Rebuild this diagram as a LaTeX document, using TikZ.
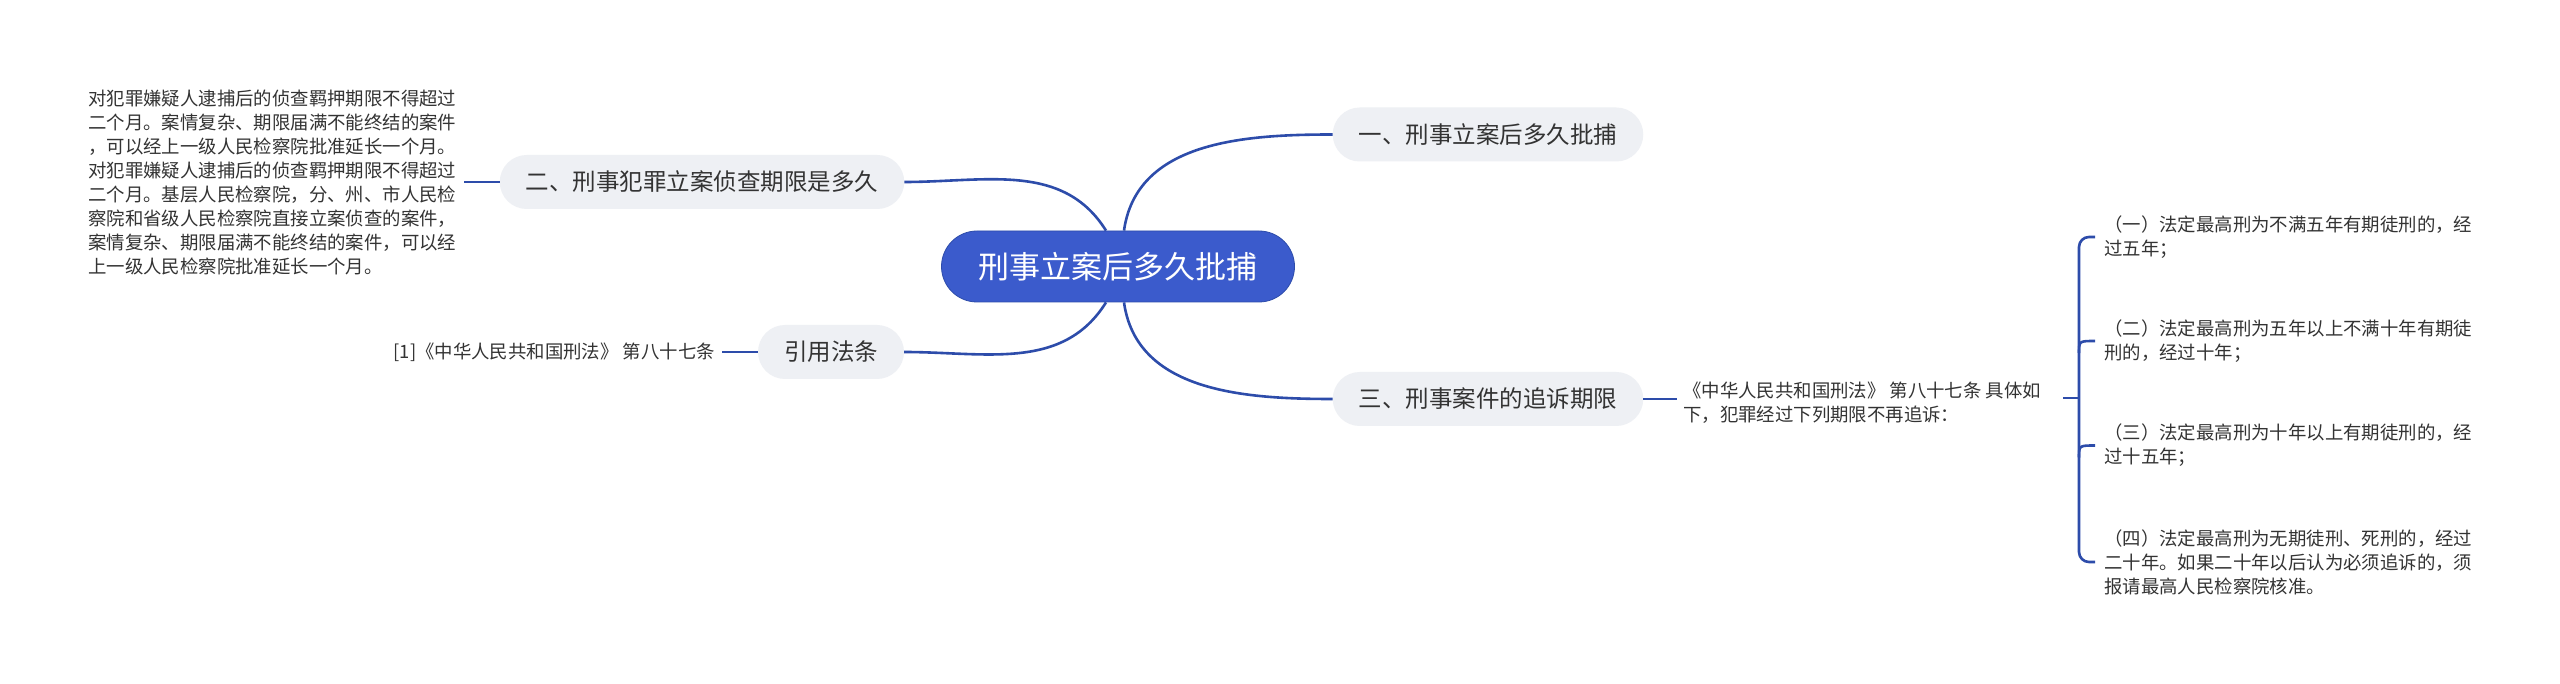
\documentclass[tikz,border=0pt]{standalone}
\usepackage{fontspec}
\setmainfont{Noto Sans CJK SC}
\usetikzlibrary{calc}
\definecolor{lineblue}{RGB}{45,76,170}
\definecolor{mainblue}{RGB}{59,91,204}
\definecolor{subgray}{RGB}{238,240,244}
\definecolor{txt}{RGB}{51,51,51}
\begin{document}
\begin{tikzpicture}[x=1pt,y=-1pt,
  mainbox/.style={fill=mainblue, draw=lineblue, line width=0.8pt, text=white, font=\fontsize{31}{36}\selectfont, inner xsep=37pt, inner ysep=0pt, minimum height=71pt, rounded corners=35.5pt},
  subbox/.style={fill=subgray, text=txt, font=\fontsize{23.5}{28}\selectfont, inner xsep=26pt, inner ysep=0pt, minimum height=54pt, rounded corners=27pt},
  leaf/.style={text=txt, font=\fontsize{18.4}{24}\selectfont, align=left, inner sep=0pt},
  link/.style={draw=lineblue, line width=2.6pt}]
\fill[white] (0,0) rectangle (2560,684);
\useasboundingbox (0,0) rectangle (2560,684);

% nodes
\node[mainbox] (c) at (1118,266.5) {刑事立案后多久批捕};
\node[subbox] (n1) at (1488,134.5) {一、刑事立案后多久批捕};
\node[subbox] (n2) at (702,182) {二、刑事犯罪立案侦查期限是多久};
\node[subbox] (n4) at (831,352) {引用法条};
\node[subbox] (n3) at (1488,399) {三、刑事案件的追诉期限};

\node[leaf, anchor=west] (l2) at (88,182.5) {对犯罪嫌疑人逮捕后的侦查羁押期限不得超过\\二个月。案情复杂、期限届满不能终结的案件\\，可以经上一级人民检察院批准延长一个月。\\对犯罪嫌疑人逮捕后的侦查羁押期限不得超过\\二个月。基层人民检察院，分、州、市人民检\\察院和省级人民检察院直接立案侦查的案件，\\案情复杂、期限届满不能终结的案件，可以经\\上一级人民检察院批准延长一个月。};
\node[leaf, anchor=east] (l4) at (715,352) {[1]《中华人民共和国刑法》 第八十七条};
\node[leaf, anchor=west] (l3) at (1683,402.5) {《中华人民共和国刑法》 第八十七条 具体如\\下，犯罪经过下列期限不再追诉：};

\node[leaf, anchor=west] (i1) at (2104,237) {（一）法定最高刑为不满五年有期徒刑的，经\\过五年；};
\node[leaf, anchor=west] (i2) at (2104,341) {（二）法定最高刑为五年以上不满十年有期徒\\刑的，经过十年；};
\node[leaf, anchor=west] (i3) at (2104,445.5) {（三）法定最高刑为十年以上有期徒刑的，经\\过十五年；};
\node[leaf, anchor=west] (i4) at (2104,562) {（四）法定最高刑为无期徒刑、死刑的，经过\\二十年。如果二十年以后认为必须追诉的，须\\报请最高人民检察院核准。};

% connectors from centre
\draw[link] ([xshift=6pt]c.north) to[out=82,in=180] (n1.west);
\draw[link] ([xshift=-12pt]c.north) to[out=122,in=0] (n2.east);
\draw[link] ([xshift=-12pt]c.south) to[out=-122,in=0] (n4.east);
\draw[link] ([xshift=6pt]c.south) to[out=-82,in=180] (n3.west);

% short connectors
\draw[link] (n2.west) -- ([xshift=-36pt]n2.west);
\draw[link] (n4.west) -- ([xshift=-36pt]n4.west);
\draw[link] (n3.east) -- ([xshift=34pt]n3.east);

% bracket
\coordinate (s0) at (2063,398);
\coordinate (bs) at (2079,398);
\coordinate (bt) at (2079,237);
\coordinate (bb) at (2079,562);
\draw[link] (s0) -- (bs);
\draw[link, rounded corners=10pt] ([xshift=-9pt]i1.west) -- (bt) -- (bb) -- ([xshift=-9pt]i4.west);
\draw[link] ($(i2.west)+(-25,12)$) .. controls ($(i2.west)+(-25,0)$) .. ($(i2.west)+(-9,0)$);
\draw[link] ($(i3.west)+(-25,12)$) .. controls ($(i3.west)+(-25,0)$) .. ($(i3.west)+(-9,0)$);
\end{tikzpicture}
\end{document}
